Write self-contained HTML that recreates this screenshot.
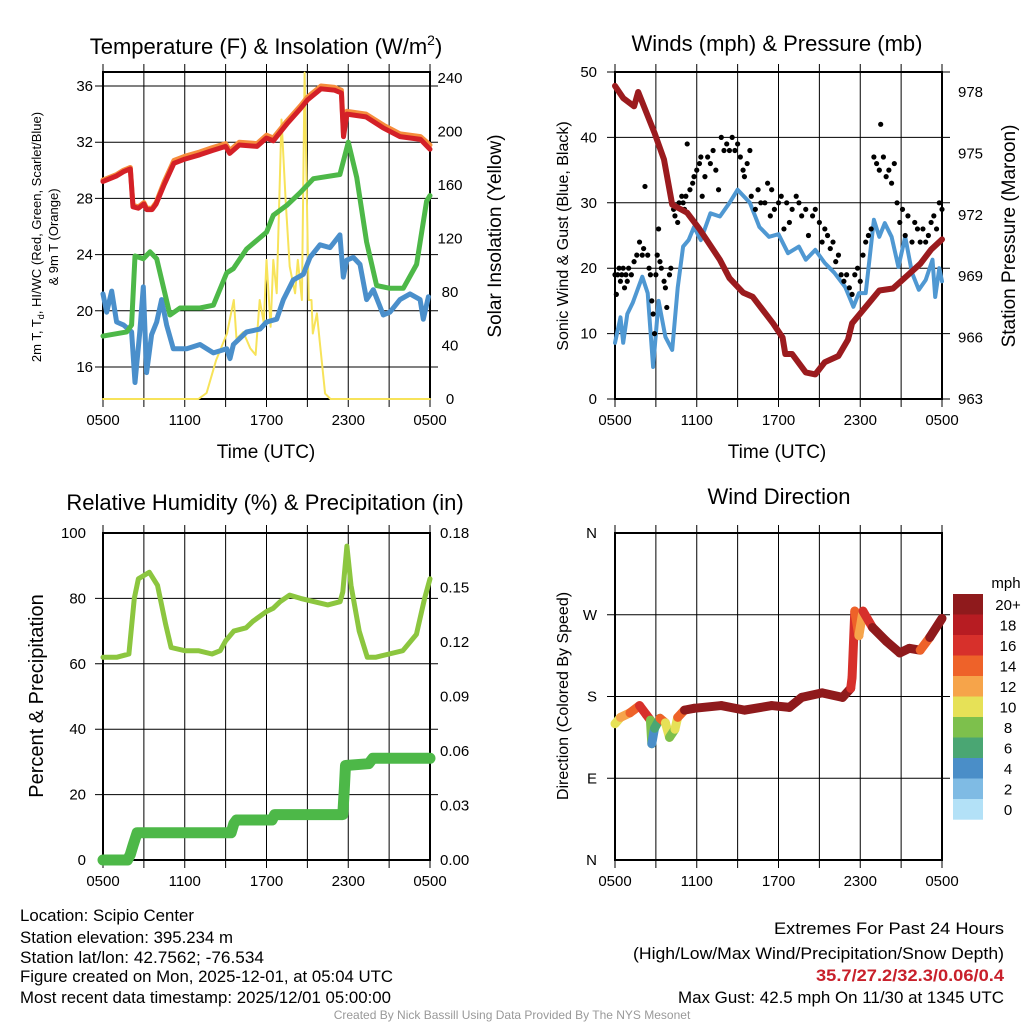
<!DOCTYPE html>
<html><head><meta charset="utf-8"><style>
html,body{margin:0;padding:0;background:#fff;}
svg{display:block;font-family:"Liberation Sans",Arial,sans-serif;}
</style></head><body>
<svg id="s" width="1024" height="1024" viewBox="0 0 1024 1024" xmlns="http://www.w3.org/2000/svg">
<rect width="1024" height="1024" fill="#fff"/>
<text x="266" y="54" font-size="22" text-anchor="middle">Temperature (F) &amp; Insolation (W/m<tspan dy="-9" font-size="14">2</tspan><tspan dy="9">)</tspan></text>
<text x="777" y="51" font-size="22" text-anchor="middle">Winds (mph) &amp; Pressure (mb)</text>
<text x="265" y="510" font-size="22" text-anchor="middle">Relative Humidity (%) &amp; Precipitation (in)</text>
<text x="779" y="504" font-size="22" text-anchor="middle">Wind Direction</text>
<text x="266" y="458" font-size="19" text-anchor="middle">Time (UTC)</text>
<text x="777" y="458" font-size="19" text-anchor="middle">Time (UTC)</text>
<text transform="translate(41,237) rotate(-90)" font-size="13" text-anchor="middle">2m T, T<tspan dy="3" font-size="9">d</tspan><tspan dy="-3">, HI/WC (Red, Green, Scarlet/Blue)</tspan></text>
<text transform="translate(58,237) rotate(-90)" font-size="13" text-anchor="middle">&amp; 9m T (Orange)</text>
<text transform="translate(501,236) rotate(-90)" font-size="19" text-anchor="middle">Solar Insolation (Yellow)</text>
<text transform="translate(568,236) rotate(-90)" font-size="16" text-anchor="middle">Sonic Wind &amp; Gust (Blue, Black)</text>
<text transform="translate(1015,236) rotate(-90)" font-size="19" text-anchor="middle">Station Pressure (Maroon)</text>
<text transform="translate(43,696) rotate(-90)" font-size="20" text-anchor="middle">Percent &amp; Precipitation</text>
<text transform="translate(568,696) rotate(-90)" font-size="16" text-anchor="middle">Direction (Colored By Speed)</text>
<g font-size="16.5">
<text x="20" y="921" textLength="174" lengthAdjust="spacingAndGlyphs">Location: Scipio Center</text>
<text x="20" y="943" textLength="213" lengthAdjust="spacingAndGlyphs">Station elevation: 395.234 m</text>
<text x="20" y="963" textLength="244" lengthAdjust="spacingAndGlyphs">Station lat/lon: 42.7562; -76.534</text>
<text x="20" y="982" textLength="373" lengthAdjust="spacingAndGlyphs">Figure created on Mon, 2025-12-01, at 05:04 UTC</text>
<text x="20" y="1003" textLength="371" lengthAdjust="spacingAndGlyphs">Most recent data timestamp: 2025/12/01 05:00:00</text>
</g>
<g font-size="16.5">
<text x="774" y="934" textLength="230" lengthAdjust="spacingAndGlyphs">Extremes For Past 24 Hours</text>
<text x="633" y="959" textLength="371" lengthAdjust="spacingAndGlyphs">(High/Low/Max Wind/Precipitation/Snow Depth)</text>
<text x="816" y="981" textLength="188" lengthAdjust="spacingAndGlyphs" fill="#c8202b" font-weight="bold">35.7/27.2/32.3/0.06/0.4</text>
<text x="678" y="1003" textLength="326" lengthAdjust="spacingAndGlyphs">Max Gust: 42.5 mph On 11/30 at 1345 UTC</text>
</g>
<text x="512" y="1019" font-size="12" fill="#999" text-anchor="middle">Created By Nick Bassill Using Data Provided By The NYS Mesonet</text>
</svg>
<script>
// ---- data ----
var timeTicks=["0500","1100","1700","2300","0500"];
var tempTicks=[16,20,24,28,32,36];
var solarTicks=[0,40,80,120,160,200,240];
var windTicks=[0,10,20,30,40,50];
var presTicks=[963,966,969,972,975,978];
var rhTicks=[0,20,40,60,80,100];
var precipTicks=["0.00","0.03","0.06","0.09","0.12","0.15","0.18"];
var dirTicks=["N","E","S","W","N"];
var redH=[0,0.5,1,1.5,2,2.2,2.6,3,3.2,3.6,3.9,4.5,5.2,6,7.1,8,9,9.3,10,11.3,12,12.5,13.5,14.5,15,16,17,17.5,17.65,17.9,19.3,20.6,21.8,23.3,24];
var redT=[29.2,29.4,29.6,29.9,30.1,27.4,27.3,27.6,27.2,27.2,27.6,29.0,30.5,30.8,31.1,31.4,31.7,31.2,31.8,31.7,32.3,32.1,33.3,34.4,35.0,35.8,35.7,35.5,32.4,34.0,33.8,33.0,32.4,32.2,31.5];
var orangeT=[29.3,29.5,29.7,30.0,30.2,27.5,27.4,27.7,27.3,27.3,27.7,29.2,30.7,31.0,31.3,31.6,31.9,31.4,32.0,31.9,32.5,32.3,33.5,34.6,35.2,36.0,35.9,35.7,32.6,34.2,34.0,33.2,32.6,32.4,31.8];
var greenH=[0,1.74,2.1,2.35,2.96,3.45,3.94,4.92,5.65,7.12,8.1,9.08,9.57,10.54,12.01,12.5,13.48,14.46,15.44,17.39,18.0,18.62,19.35,20.08,21.06,22.04,23.02,23.75,24];
var greenT=[18.2,18.5,19,23.9,23.7,24.2,23.7,19.7,20.2,20.2,20.4,22.7,23,24.4,25.6,26.8,27.5,28.4,29.4,29.7,32,29.5,24.9,21.8,21.6,21.6,23.3,27.8,28.2];
var blueH=[0,0.27,0.64,1.0,1.5,2.1,2.35,2.7,2.96,3.2,3.57,3.94,4.3,4.67,5.16,6.14,7.12,8.1,9.08,9.32,9.57,10.54,11.52,12.01,12.75,13.24,13.97,14.7,15.19,15.93,16.66,17.39,17.64,17.88,18.37,18.86,19.35,19.84,20.57,21.06,21.8,22.53,23.27,23.51,23.88];
var blueT=[21.2,19.9,21.4,19.2,19,18.5,14.9,18.5,21.7,15.6,18.3,19.2,20.8,19,17.3,17.3,17.6,17,17.3,16.6,17.6,18.5,18.7,19.2,19.4,20.8,22.2,22.6,23.8,24.7,24.5,25.4,22.4,23.6,23.8,23.3,20.8,21.5,19.7,19.9,20.8,21.2,20.8,19.4,21];
var solarH=[0,7.0,7.6,8.3,9.1,9.3,9.6,9.8,10.3,10.8,11.2,11.5,11.8,12,12.3,12.5,12.75,13.1,13.4,13.7,14.1,14.3,14.6,14.8,15.1,15.3,15.4,15.7,15.9,16.3,16.7,24];
var solarW=[0,0,4.5,29,49,59,74,45,50,38,33,74,57,104,54,104,79,209,149,99,79,104,74,244,74,74,49,64,44,4,0,0];
var windH=[0,0.4,0.6,0.9,1.3,2,2.4,2.8,3.2,3.7,4.2,4.6,5,5.4,5.8,6.3,7,7.7,8.4,9,9.9,10.6,11.3,12,12.7,13.5,14,14.7,15.4,16.1,16.9,17.5,17.9,18.4,19,19.4,19.8,20.3,20.8,21.3,21.8,22.3,22.8,23.3,23.5,23.8,24];
var windV=[8.6,12.5,8.6,13,14.7,18.7,16.2,4.9,15,9.5,7.5,17,23.3,24.3,26.3,24.3,28.4,27.9,30,32,30,26.3,24.8,25.2,22.3,23.3,21.3,22.8,20.8,19.3,17.1,14.1,16.2,16.2,27.4,24.8,26.9,24.8,20.2,24.8,19.3,16.7,18.2,21.3,15.6,20,18];
var gustH=[0,0.1,0.2,0.3,0.4,0.5,0.6,0.7,0.8,0.9,1.0,1.2,1.4,1.6,1.8,2.0,2.1,2.2,2.4,2.5,2.6,2.7,2.8,2.9,3.0,3.1,3.2,3.3,3.4,3.6,3.7,3.8,4.0,4.1,4.3,4.4,4.6,4.7,4.9,5.0,5.1,5.2,5.3,5.5,5.7,5.8,6.0,6.2,6.3,6.4,6.6,6.8,7.0,7.2,7.4,7.6,7.8,8.0,8.2,8.4,8.6,8.8,9.0,9.2,9.4,9.5,9.7,9.9,10.0,10.3,10.5,10.7,11.0,11.2,11.4,11.5,11.7,12.0,12.2,12.4,12.6,12.8,13.0,13.3,13.5,13.7,14.0,14.2,14.5,14.7,15.0,15.2,15.4,15.6,15.8,16.0,16.2,16.4,16.6,16.8,17.0,17.2,17.4,17.6,17.8,18.0,18.2,18.4,18.6,18.8,19.0,19.2,19.4,19.5,19.7,19.9,20.1,20.3,20.5,20.7,20.9,21.1,21.3,21.5,21.8,22.0,22.2,22.4,22.6,22.8,23.0,23.2,23.4,23.6,23.8,24.0];
var gustV=[19,16,19,20,18,19,20,17,19,18,20,19,21,22,24,22,23,32.5,22,20,19,15,13,10,19,22,26,21,20,18,17,14,19,20,29,28,27,30,31,30,29,31,39,32,33,34,35,36,37,31,34,37,36,38,35,32,40,38,39,38,40,38,39,37,35,34,36,38,31,29,32,30,30,33,28,32,29,30,31,26,30,27,29,31,30,28,29,25,28,29,27,24,26,25,23,24,21,22,19,18,19,17,16,19,20,18,22,24,25,26,37,36,35,42,37,34,35,33,36,30,27,29,25,28,24,27,26,24,26,24,25,27,28,26,30,29];
var presH=[0,0.6,1.4,1.7,2.9,3.6,4.2,5.3,6.2,7.7,8.4,9.4,10.1,11.6,12.3,12.5,13,14,14.7,15.4,16.4,17.1,17.4,18.4,19.4,20.4,21.4,22.4,23.2,24];
var presV=[978.3,977.7,977.3,978.0,976.0,974.7,972.5,972.1,971.3,969.8,968.9,968.2,968.0,966.7,966.0,965.2,965.2,964.3,964.2,964.8,965.1,965.9,966.7,967.5,968.3,968.4,969.0,969.6,970.3,970.8];
var rhH=[0,1,1.9,2.3,2.6,3,3.4,4,4.6,5.0,6,7,8,8.6,9,9.6,10.5,11,12,12.5,13,13.7,14.5,15.5,16.5,17.4,17.6,17.9,18.2,18.8,19.4,20,21,22,23,23.6,24];
var rhV=[62,62,63,80,86,87,88,84,72,65,64,64,63,64,67,70,71,73,76,77,79,81,80,79,78,79,82,96,84,70,62,62,63,64,69,80,86];
var precH=[0,1.8,2.0,2.2,2.5,9.4,9.6,9.8,12.4,12.6,17.6,17.7,17.8,19.5,19.8,24];
var precV=[0,0,0.003,0.008,0.015,0.015,0.020,0.022,0.022,0.025,0.025,0.038,0.052,0.053,0.056,0.056];
var dirH=[0,0.4,1.1,1.8,2.3,2.6,2.7,2.9,3.3,3.7,4.0,4.4,4.6,5.1,5.8,7.8,9.5,11.5,12.8,13.7,15.2,16.7,17.3,17.4,17.6,17.9,18.2,18.9,19.9,20.9,21.6,22.4,23.1,24];
var dirDeg=[150,157,162,170,160,154,128,145,156,151,135,144,157,165,167,170,165,170,168,179,184,179,189,201,274,247,274,256,241,228,233,231,245,266];
var dirSpd=[10,12,14,17,16,8,4,6,14,10,8,10,14,20,20,21,22,22,22,21,21,21,16,16,14,12,16,20,21,21,20,14,20,20];
var cbLabels=["20+","18","16","14","12","10","8","6","4","2","0"];
var cbColors=["#8f1a1c","#b71c22","#d7302b","#ee6229","#f6a44a","#e6e157","#7dc04c","#4aa673","#4a8ec8","#7fbbe4","#b3e1f7"];

// ---- helpers ----
var NS="http://www.w3.org/2000/svg",S=document.getElementById('s');
function mk(tag,attrs,parent){var e=document.createElementNS(NS,tag);for(var k in attrs)e.setAttribute(k,attrs[k]);(parent||S).appendChild(e);return e;}
function lin(d0,d1,p0,p1){return function(v){return p0+(v-d0)*(p1-p0)/(d1-d0);};}
function pathD(xs,ys,fx,fy){var d="";for(var i=0;i<xs.length;i++)d+=(i?"L":"M")+fx(xs[i]).toFixed(1)+","+fy(ys[i]).toFixed(1);return d;}
function frame(g,x0,x1,y0,y1,hy){
  for(var h=0;h<=24;h+=3){var x=lin(0,24,x0,x1)(h);var l=mk('line',{x1:x,x2:x,y1:y0-8,y2:y1+8,stroke:'#000','stroke-width':1},g);}
  hy.forEach(function(y){var l=mk('line',{x1:x0-8,x2:x1+8,y1:y,y2:y,stroke:'#000','stroke-width':1},g);});
  var r=mk('rect',{x:x0,y:y0,width:x1-x0,height:y1-y0,fill:'none',stroke:'#000','stroke-width':2},g);
  timeTicks.forEach(function(t,i){var tx=mk('text',{x:lin(0,4,x0,x1)(i),y:y1+26,'font-size':15,'text-anchor':'middle'},g);tx.textContent=t;});
}
function ylabels(g,vals,fy,x,anchor,fmt){vals.forEach(function(v){var t=mk('text',{x:x,y:fy(parseFloat(v))+5,'font-size':15,'text-anchor':anchor},g);t.textContent=fmt?fmt(v):v;});}
function series(g,xs,ys,fx,fy,col,w,name){var p=mk('path',{d:pathD(xs,ys,fx,fy),fill:'none',stroke:col,'stroke-width':w,'stroke-linejoin':'round','stroke-linecap':'round'},g);return p;}

// ---- panel 1: temperature ----
(function(){var g=mk('g',{});
var x0=103,x1=430,y0=72,y1=399;var fx=lin(0,24,x0,x1),fy=lin(36,16,86,367),fs=lin(0,240,399,78);
frame(g,x0,x1,y0,y1,tempTicks.map(fy));
ylabels(g,tempTicks,fy,93,'end');ylabels(g,solarTicks,fs,450,'middle');
series(g,solarH,solarW,fx,fs,'#f7e35a',2,'solar-line');
series(g,blueH,blueT,fx,fy,'#4a8fcb',5,'windchill-line');
series(g,greenH,greenT,fx,fy,'#4db848',5,'dewpoint-line');
series(g,redH,orangeT,fx,fy,'#f68d3c',5,'temp-9m-line');
series(g,redH,redT,fx,fy,'#d42027',5,'temp-2m-line');
})();
// ---- panel 2: winds ----
(function(){var g=mk('g',{});
var x0=615,x1=942,y0=72,y1=399;var fx=lin(0,24,x0,x1),fy=lin(0,50,399,72),fp=lin(963,978,399,92);
frame(g,x0,x1,y0,y1,windTicks.map(fy));
ylabels(g,windTicks,fy,597,'end');ylabels(g,presTicks,fp,958,'start');
series(g,windH,windV,fx,fy,'#4f98d2',4,'sonic-wind-line');
for(var i=0;i<gustH.length;i++){var c=mk('circle',{cx:fx(gustH[i]),cy:fy(gustV[i]),r:2.6,fill:'#000'},g);

}
series(g,presH,presV,fx,fp,'#9b1b1e',6,'pressure-line');
})();
// ---- panel 3: RH ----
(function(){var g=mk('g',{});
var x0=103,x1=430,y0=533,y1=860;var fx=lin(0,24,x0,x1),fy=lin(0,100,860,533),fq=lin(0,0.18,860,533);
frame(g,x0,x1,y0,y1,[20,40,60,80].map(fy));
ylabels(g,rhTicks,fy,86,'end');ylabels(g,precipTicks,fq,440,'start');
series(g,rhH,rhV,fx,fy,'#8cc63f',5,'rh-line');
series(g,precH,precV,fx,fq,'#4db848',11,'precip-line');
})();
// ---- panel 4: wind direction ----
(function(){var g=mk('g',{});
var x0=615,x1=942,y0=533,y1=860;var fx=lin(0,24,x0,x1),fy=lin(0,360,860,533);
frame(g,x0,x1,y0,y1,[90,180,270].map(fy));
dirTicks.forEach(function(t,i){var tx=mk('text',{x:597,y:fy(i*90)+5,'font-size':15,'text-anchor':'end'},g);tx.textContent=t;

});
function col(s){var k=Math.min(10,Math.floor(s/2));return cbColors[10-k];}
for(var i=0;i<dirH.length-1;i++){var l=mk('line',{x1:fx(dirH[i]),y1:fy(dirDeg[i]),x2:fx(dirH[i+1]),y2:fy(dirDeg[i+1]),stroke:col(dirSpd[i]),'stroke-width':9,'stroke-linecap':'round'},g);

}
var cb=mk('g',{},g);
var t=mk('text',{x:1006,y:588,'font-size':15,'text-anchor':'middle'},cb);t.textContent='mph';
cbLabels.forEach(function(lb,i){var r=mk('rect',{x:953,y:594+i*20.5,width:30,height:20.7,fill:cbColors[i]},cb);


var tx=mk('text',{x:1008,y:594+i*20.5+16,'font-size':15,'text-anchor':'middle'},cb);tx.textContent=lb;

});
})();
</script>
</body></html>
